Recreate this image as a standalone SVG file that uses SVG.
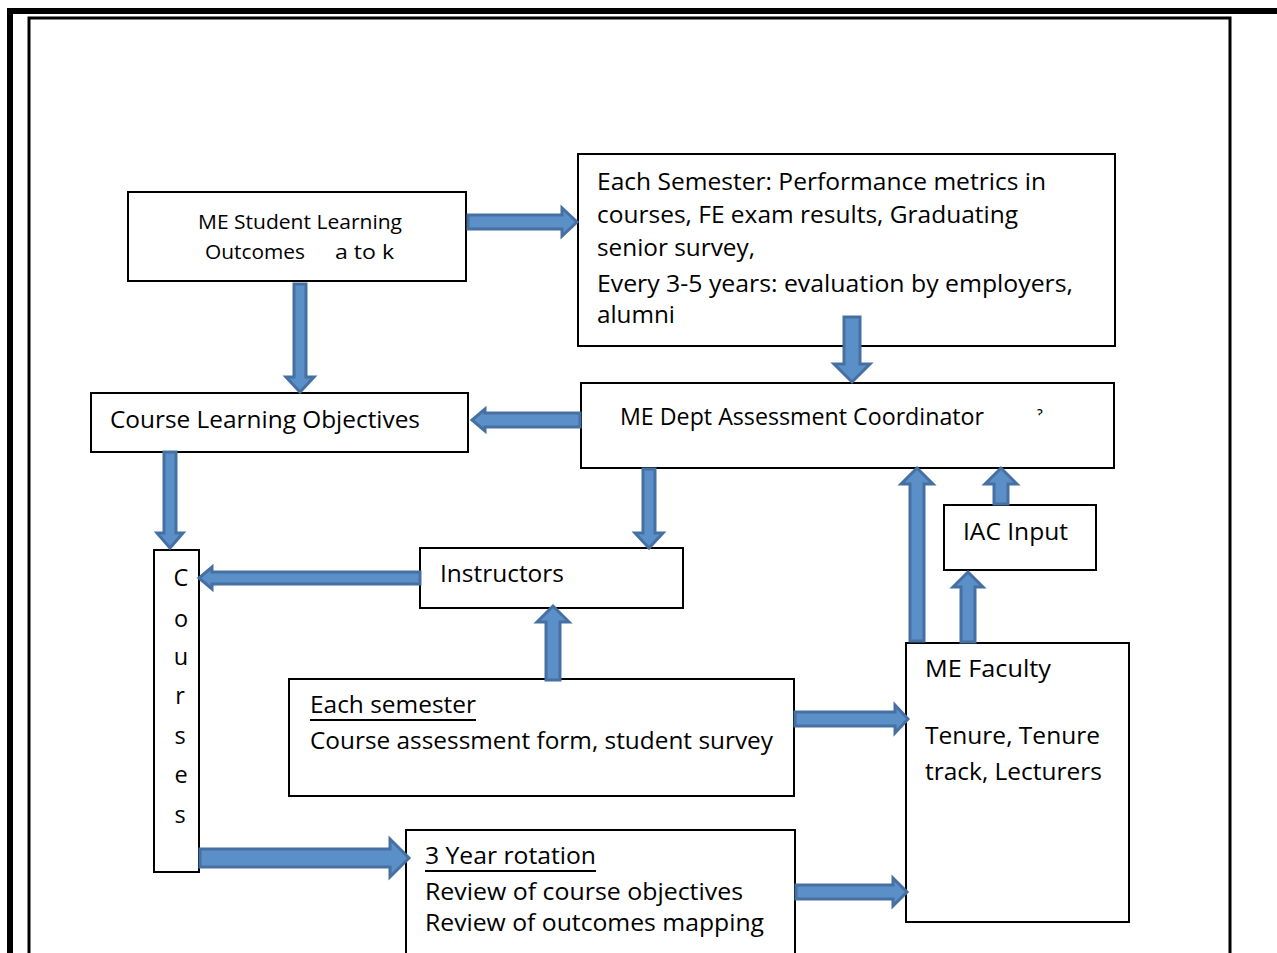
<svg xmlns="http://www.w3.org/2000/svg" width="1277" height="953" viewBox="0 0 1277 953">
<style>
.box{fill:#fff;stroke:#000;stroke-width:2}
.t{font-family:"Open Sans","Noto Sans",sans-serif;font-size:23.5px;fill:#000}
.s{font-family:"Open Sans","Noto Sans",sans-serif;font-size:20px;fill:#000}
.arr{fill:#5B8FC8;stroke:#4670A2;stroke-width:3;stroke-linejoin:miter}
</style>
<rect width="1277" height="953" fill="#fff"/>
<g id="frame">
<path d="M10,953 V11 H1277" fill="none" stroke="#000" stroke-width="6"/>
<path d="M29,953 V18 H1230 V953" fill="none" stroke="#000" stroke-width="3"/>
</g>
<g id="slo">
<rect class="box" x="128" y="192" width="338" height="89"/>
<text class="s" x="198" y="229" textLength="204" lengthAdjust="spacingAndGlyphs">ME Student Learning</text>
<text class="s" x="205" y="259" textLength="100" lengthAdjust="spacingAndGlyphs">Outcomes</text>
<text class="s" x="335" y="259" textLength="59" lengthAdjust="spacingAndGlyphs">a to k</text>
</g>
<g id="metrics">
<rect class="box" x="578" y="154" width="537" height="192"/>
<text class="t" x="597" y="190" textLength="449" lengthAdjust="spacingAndGlyphs">Each Semester: Performance metrics in</text>
<text class="t" x="597" y="223" textLength="421" lengthAdjust="spacingAndGlyphs">courses, FE exam results, Graduating</text>
<text class="t" x="597" y="256" textLength="158" lengthAdjust="spacingAndGlyphs">senior survey,</text>
<text class="t" x="597" y="292" textLength="476" lengthAdjust="spacingAndGlyphs">Every 3-5 years: evaluation by employers,</text>
<text class="t" x="597" y="323" textLength="78" lengthAdjust="spacingAndGlyphs">alumni</text>
</g>
<g id="clo">
<rect class="box" x="91" y="393" width="377" height="59"/>
<text class="t" x="110" y="428" textLength="310" lengthAdjust="spacingAndGlyphs">Course Learning Objectives</text>
</g>
<g id="coordinator">
<rect class="box" x="581" y="383" width="533" height="85"/>
<text class="t" x="620" y="425" textLength="364" lengthAdjust="spacingAndGlyphs">ME Dept Assessment Coordinator</text>
<text class="s" x="1037" y="424" style="font-size:20px">ˀ</text>
</g>
<g id="courses">
<rect class="box" x="154" y="550" width="45" height="322"/>
<text class="t" x="181" y="586" text-anchor="middle">C</text>
<text class="t" x="181" y="627" text-anchor="middle">o</text>
<text class="t" x="181" y="665" text-anchor="middle">u</text>
<text class="t" x="180" y="704" text-anchor="middle">r</text>
<text class="t" x="180" y="744" text-anchor="middle">s</text>
<text class="t" x="181" y="783" text-anchor="middle">e</text>
<text class="t" x="180" y="823" text-anchor="middle">s</text>
</g>
<g id="instructors">
<rect class="box" x="420" y="548" width="263" height="60"/>
<text class="t" x="440" y="582" textLength="124" lengthAdjust="spacingAndGlyphs">Instructors</text>
</g>
<g id="iac">
<rect class="box" x="944" y="505" width="152" height="65"/>
<text class="t" x="963" y="540" textLength="105" lengthAdjust="spacingAndGlyphs">IAC Input</text>
</g>
<g id="each-semester">
<rect class="box" x="289" y="679" width="505" height="117"/>
<text class="t" x="310" y="713" textLength="166" lengthAdjust="spacingAndGlyphs">Each semester</text>
<line x1="310" y1="720" x2="476" y2="720" stroke="#000" stroke-width="2"/>
<text class="t" x="310" y="749" textLength="463" lengthAdjust="spacingAndGlyphs">Course assessment form, student survey</text>
</g>
<g id="faculty">
<rect class="box" x="906" y="643" width="223" height="279"/>
<text class="t" x="925" y="677" textLength="126" lengthAdjust="spacingAndGlyphs">ME Faculty</text>
<text class="t" x="925" y="744" textLength="175" lengthAdjust="spacingAndGlyphs">Tenure, Tenure</text>
<text class="t" x="925" y="780" textLength="177" lengthAdjust="spacingAndGlyphs">track, Lecturers</text>
</g>
<g id="rotation">
<rect class="box" x="406" y="830" width="389" height="140"/>
<text class="t" x="425" y="864" textLength="171" lengthAdjust="spacingAndGlyphs">3 Year rotation</text>
<line x1="425" y1="871" x2="596" y2="871" stroke="#000" stroke-width="2"/>
<text class="t" x="425" y="900" textLength="318" lengthAdjust="spacingAndGlyphs">Review of course objectives</text>
<text class="t" x="425" y="931" textLength="339" lengthAdjust="spacingAndGlyphs">Review of outcomes mapping</text>
</g>
<g id="connectors">
<path class="arr" d="M468,215 H562 V208 L577,222 L562,236 V229 H468 Z"/>
<path class="arr" d="M294,284 V377 H286 L300,392 L314,377 H306 V284 Z"/>
<path class="arr" d="M844,317 V364 H834 L852,382 L870,364 H860 V317 Z"/>
<path class="arr" d="M580,413 H485 V409 L472,420 L485,431 V427 H580 Z"/>
<path class="arr" d="M164,452 V533 H157 L170,548 L183,533 H176 V452 Z"/>
<path class="arr" d="M643,469 V533 H635 L649,548 L663,533 H655 V469 Z"/>
<path class="arr" d="M420,572 H212 V567 L199,578 L212,589 V584 H420 Z"/>
<path class="arr" d="M546,680 V622 H537 L553,606 L569,622 H560 V680 Z"/>
<path class="arr" d="M910,641 V484 H901 L917,468 L933,484 H924 V641 Z"/>
<path class="arr" d="M994,504 V484 H985 L1001,468 L1017,484 H1008 V504 Z"/>
<path class="arr" d="M961,642 V587 H953 L968,572 L983,587 H975 V642 Z"/>
<path class="arr" d="M795,712 H895 V705 L908,719 L895,733 V726 H795 Z"/>
<path class="arr" d="M200,849 H390 V839 L409,858 L390,877 V867 H200 Z"/>
<path class="arr" d="M796,885 H893 V878 L907,892 L893,906 V899 H796 Z"/>
</g>
</svg>
